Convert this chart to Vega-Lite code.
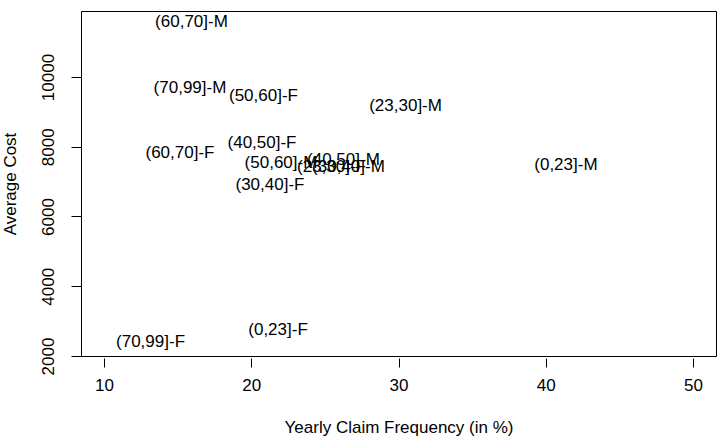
{
  "$schema": "https://vega.github.io/schema/vega-lite/v6.json",
  "width": 635,
  "height": 345,
  "autosize": {"type": "none"},
  "padding": {"left": 81, "top": 11, "right": 9, "bottom": 91},
  "background": "white",
  "config": {
    "view": {"stroke": "black", "strokeWidth": 1},
    "font": "Liberation Sans"
  },
  "data": {
    "values": [
      {"label": "(60,70]-M", "freq": 15.94, "cost": 11577},
      {"label": "(70,99]-M", "freq": 15.84, "cost": 9685},
      {"label": "(50,60]-F", "freq": 20.83, "cost": 9455},
      {"label": "(23,30]-M", "freq": 30.48, "cost": 9168},
      {"label": "(0,23]-M", "freq": 41.37, "cost": 7477},
      {"label": "(60,70]-F", "freq": 15.16, "cost": 7821},
      {"label": "(40,50]-F", "freq": 20.73, "cost": 8108},
      {"label": "(50,60]-M", "freq": 22.02, "cost": 7534},
      {"label": "(40,50]-M", "freq": 26.26, "cost": 7620},
      {"label": "(30,40]-M", "freq": 26.6, "cost": 7419},
      {"label": "(23,30]-F", "freq": 25.45, "cost": 7419},
      {"label": "(30,40]-F", "freq": 21.27, "cost": 6903},
      {"label": "(0,23]-F", "freq": 21.82, "cost": 2746},
      {"label": "(70,99]-F", "freq": 13.16, "cost": 2402}
    ]
  },
  "mark": {"type": "text", "fontSize": 17, "font": "Liberation Sans", "color": "black", "align": "center", "baseline": "middle"},
  "encoding": {
    "x": {
      "field": "freq", "type": "quantitative",
      "scale": {"domain": [8.438, 51.562], "nice": false, "zero": false},
      "axis": {
        "values": [10, 20, 30, 40, 50],
        "format": "d",
        "title": "Yearly Claim Frequency (in %)",
        "grid": false, "domain": false,
        "tickColor": "black", "tickSize": 9, "offset": 2,
        "labelFontSize": 17, "labelColor": "black", "labelPadding": 10, "labelFont": "Liberation Sans",
        "titleFontSize": 17, "titleFontWeight": "normal", "titleColor": "black", "titlePadding": 26, "titleFont": "Liberation Sans"
      }
    },
    "y": {
      "field": "cost", "type": "quantitative",
      "scale": {"domain": [2000, 11892], "nice": false, "zero": false},
      "axis": {
        "values": [2000, 4000, 6000, 8000, 10000],
        "format": "d",
        "title": "Average Cost",
        "grid": false, "domain": false,
        "tickColor": "black", "tickSize": 10,
        "labelAngle": 270, "labelAlign": "center", "labelBaseline": "bottom",
        "labelFontSize": 17, "labelColor": "black", "labelPadding": 14, "labelFont": "Liberation Sans",
        "titleFontSize": 17, "titleFontWeight": "normal", "titleColor": "black", "titlePadding": 20, "titleFont": "Liberation Sans"
      }
    },
    "text": {"field": "label"}
  }
}
